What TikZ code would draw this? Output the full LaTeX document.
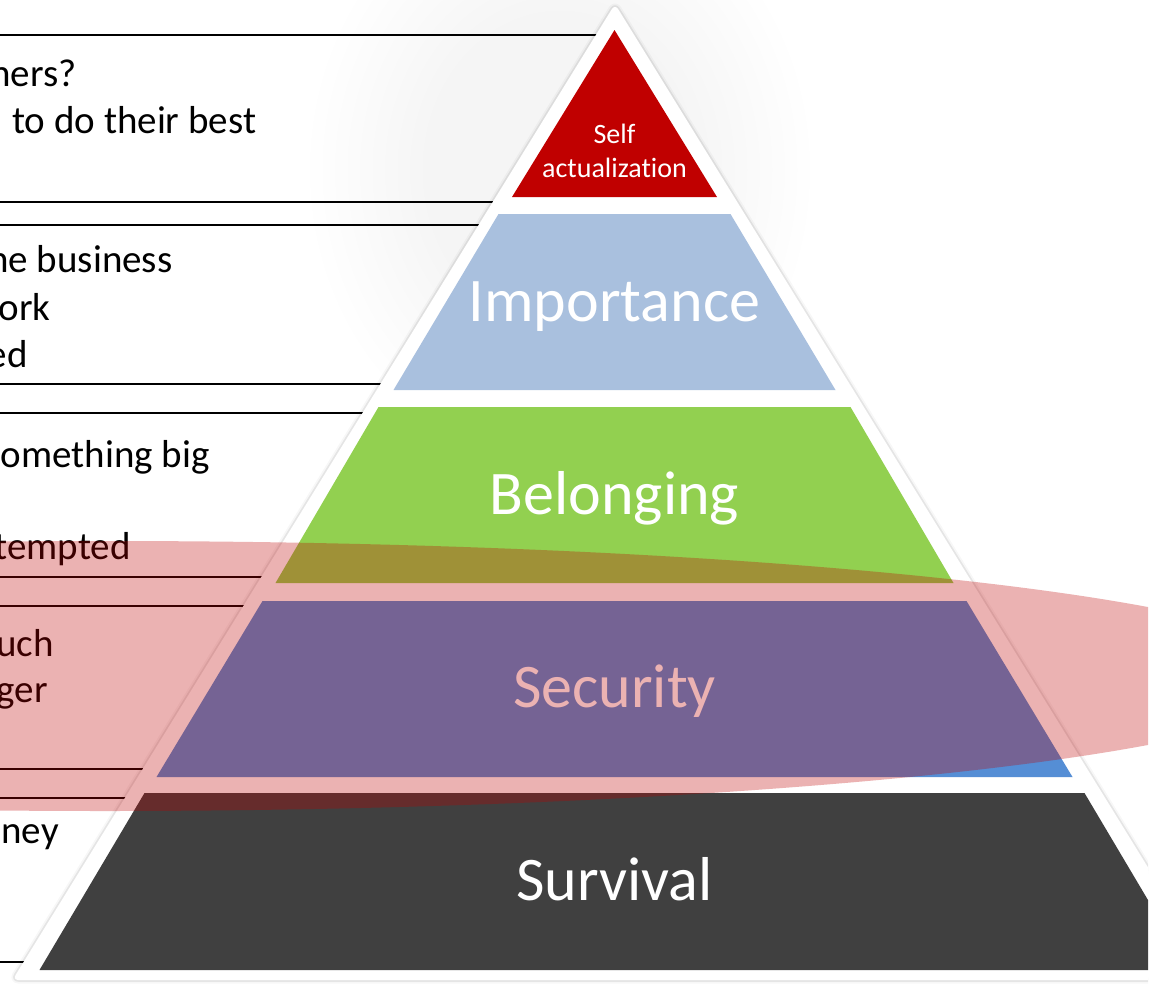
\documentclass[tikz,border=0pt]{standalone}
\usepackage{fontspec}
\setmainfont{Carlito}[Ligatures=NoCommon]
\definecolor{selfred}{HTML}{C00000}
\definecolor{impblue}{HTML}{A9C0DE}
\definecolor{belgreen}{HTML}{92D050}
\definecolor{secblue}{HTML}{558ED5}
\definecolor{survgray}{HTML}{404040}
\tikzset{
  boxline/.style={line width=1.9pt, black},
  lefttext/.style={inner sep=0pt, font=\fontsize{39}{47}\selectfont, text=black},
  layerlabel/.style={inner sep=0pt, text=white, font=\fontsize{62}{74}\selectfont, anchor=base},
  smalllabel/.style={inner sep=0pt, text=white, font=\fontsize{28}{34}\selectfont, anchor=base},
  pyrshadow/.style={rounded corners=6pt, line join=round, black},
}
\begin{document}
\begin{tikzpicture}[x=1pt,y=-1pt]
\fill[white] (0,0) rectangle (1159,985);
\useasboundingbox (0,0) rectangle (1159,985);
\begin{scope}
\clip (0,0) rectangle (1148,985);
% faint glow behind the apex
\foreach \r in {1,0.95,0.9,0.85,0.8,0.75,0.7,0.65,0.6,0.55}{
  \fill[selfred, opacity=0.005] (560,170) ellipse [x radius=\r*250pt, y radius=\r*290pt];
}
% text box borders
\foreach \yy in {35,201.7,225,384.3,412.7,576.7,605.7,769.3,798.3,961.7}{
  \draw[boxline] (-5,\yy) -- (615,\yy);
}
% left texts
\node[lefttext, anchor=base east] (t1a) at (76.7,86) {hers?};
\node[lefttext, anchor=base west] (t1b) at (12,133) {to do their best};
\node[lefttext, anchor=base east] (t2a) at (172.7,272) {he business};
\node[lefttext, anchor=base east] (t2b) at (50.7,320) {ork};
\node[lefttext, anchor=base east] (t2c) at (28,367) {ed};
\node[lefttext, anchor=base east] (t3a) at (210,467) {omething big};
\node[lefttext, anchor=base east] (t3b) at (131,559) {tempted};
\node[lefttext, anchor=base east] (t4a) at (54,656) {uch};
\node[lefttext, anchor=base east] (t4b) at (48,702) {ger};
\node[lefttext, anchor=base east] (t5a) at (59,843) {oney};
% white pyramid with soft shadow
\draw[pyrshadow, line width=7pt, opacity=0.03] (615,4) -- (1217.5,980) -- (12.5,980) -- cycle;
\draw[pyrshadow, line width=3.5pt, opacity=0.07] (615,4) -- (1217.5,980) -- (12.5,980) -- cycle;
\fill[white, rounded corners=6pt] (615,4) -- (1217.5,980) -- (12.5,980) -- cycle;
% layers
\fill[selfred] (614.5,30) -- (717,197) -- (512,197) -- cycle;
\fill[impblue] (498.5,214) -- (730.5,214) -- (835.5,390) -- (393.5,390) -- cycle;
\fill[belgreen] (378.5,407) -- (850.5,407) -- (953.5,583) -- (275.5,583) -- cycle;
\fill[secblue] (262.5,601) -- (966.5,601) -- (1072.5,777) -- (156.5,777) -- cycle;
\fill[survgray] (144.5,793) -- (1084.5,793) -- (1189.5,970) -- (39.5,970) -- cycle;
% labels
\node[smalllabel] (selfA) at (614.5,143) {Self};
\node[smalllabel] (selfB) at (614.5,177) {actualization};
\node[layerlabel] (imp) at (614.5,321) {Importance};
\node[layerlabel] (bel) at (614.5,514) {Belonging};
\node[layerlabel] (sec) at (614.5,707) {Security};
\node[layerlabel] (surv) at (614.5,900) {Survival};
% translucent red oval overlay
\fill[selfred, opacity=0.3] (105,676) ellipse [x radius=1213pt, y radius=135pt];
\end{scope}
\end{tikzpicture}
\end{document}
